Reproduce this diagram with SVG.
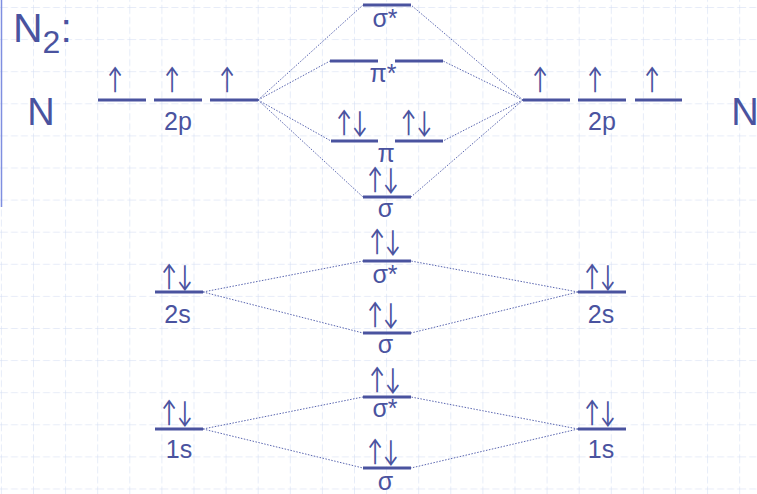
<svg xmlns="http://www.w3.org/2000/svg" width="757" height="494" viewBox="0 0 757 494">
<defs>
<pattern id="grid" x="33" y="7" width="32.1" height="32.1" patternUnits="userSpaceOnUse">
<line x1="0" y1="0" x2="32.1" y2="0" stroke="#cfdaf2" stroke-width="1" stroke-dasharray="7 3"/>
<line x1="0" y1="0" x2="0" y2="32.1" stroke="#cfdaf2" stroke-width="1" stroke-dasharray="7 3"/>
</pattern>
</defs>
<style>
.lv{stroke:#4a539f;stroke-width:3}
.t{font-family:"Liberation Sans",Arial,sans-serif;fill:#4a539f;text-anchor:middle}
.lab{font-size:25px}
.ar{font-family:Lato,"DejaVu Sans",sans-serif;font-size:29px;fill:#4a539f;text-anchor:middle}
.big{font-size:38px}
.cn{stroke:#5a66b0;stroke-width:1;stroke-dasharray:1.5 1.5;fill:none}
</style>
<rect width="757" height="494" fill="#ffffff"/>
<rect width="757" height="494" fill="url(#grid)"/>
<line x1="1.5" y1="0" x2="1.5" y2="207" stroke="#7f8fe0" stroke-width="1.5"/>

<g id="title"><text x="13" y="42" class="t" style="text-anchor:start;font-size:41px">N<tspan font-size="32" dy="11">2</tspan><tspan dy="-11">:</tspan></text></g>

<g id="connectors">
<line class="cn" x1="258" y1="100" x2="363" y2="5"/>
<line class="cn" x1="258" y1="100" x2="330" y2="61"/>
<line class="cn" x1="258" y1="100" x2="331" y2="141"/>
<line class="cn" x1="258" y1="100" x2="363" y2="197"/>
<line class="cn" x1="523" y1="100" x2="411" y2="5"/>
<line class="cn" x1="523" y1="100" x2="443" y2="61"/>
<line class="cn" x1="523" y1="100" x2="443" y2="141"/>
<line class="cn" x1="523" y1="100" x2="411" y2="197"/>
<line class="cn" x1="203" y1="292" x2="363" y2="261"/>
<line class="cn" x1="203" y1="292" x2="363" y2="333"/>
<line class="cn" x1="578" y1="292" x2="411" y2="261"/>
<line class="cn" x1="578" y1="292" x2="411" y2="333"/>
<line class="cn" x1="203" y1="429" x2="363" y2="397"/>
<line class="cn" x1="203" y1="429" x2="363" y2="468"/>
<line class="cn" x1="578" y1="429" x2="411" y2="397"/>
<line class="cn" x1="578" y1="429" x2="411" y2="468"/>
</g>

<g id="N-left"><text x="41" y="125" class="t big">N</text></g>
<g id="N-right"><text x="745" y="125" class="t big">N</text></g>

<g id="left-2p">
<line class="lv" x1="98" y1="100" x2="146" y2="100"/>
<line class="lv" x1="154" y1="100" x2="202" y2="100"/>
<line class="lv" x1="210" y1="100" x2="258" y2="100"/>
<text transform="translate(115 89) scale(0.72 1)" class="ar">↑</text>
<text transform="translate(172 89) scale(0.72 1)" class="ar">↑</text>
<text transform="translate(227 89) scale(0.72 1)" class="ar">↑</text>
<text x="178" y="130" class="t lab">2p</text>
</g>

<g id="right-2p">
<line class="lv" x1="523" y1="100" x2="570" y2="100"/>
<line class="lv" x1="578" y1="100" x2="626" y2="100"/>
<line class="lv" x1="635" y1="100" x2="682" y2="100"/>
<text transform="translate(540 89) scale(0.72 1)" class="ar">↑</text>
<text transform="translate(595 89) scale(0.72 1)" class="ar">↑</text>
<text transform="translate(652 89) scale(0.72 1)" class="ar">↑</text>
<text x="602" y="130" class="t lab">2p</text>
</g>

<g id="sigma-star-2p">
<line class="lv" x1="363" y1="5" x2="411" y2="5"/>
<text x="385" y="27" class="t lab">σ*</text>
</g>

<g id="pi-star">
<line class="lv" x1="330" y1="61" x2="378" y2="61"/>
<line class="lv" x1="395" y1="61" x2="443" y2="61"/>
<text x="383" y="82" class="t lab">π*</text>
</g>

<g id="pi">
<line class="lv" x1="331" y1="141" x2="378" y2="141"/>
<line class="lv" x1="395" y1="141" x2="443" y2="141"/>
<text transform="translate(352 132) scale(0.72 1)" class="ar">↑↓</text>
<text transform="translate(416.5 132) scale(0.72 1)" class="ar">↑↓</text>
<text x="386" y="162" class="t lab">π</text>
</g>

<g id="sigma-2p">
<line class="lv" x1="363" y1="197" x2="411" y2="197"/>
<text transform="translate(383 189) scale(0.72 1)" class="ar">↑↓</text>
<text x="385.5" y="217" class="t lab">σ</text>
</g>

<g id="sigma-star-2s">
<line class="lv" x1="363" y1="261" x2="411" y2="261"/>
<text transform="translate(385 251) scale(0.72 1)" class="ar">↑↓</text>
<text x="385" y="283" class="t lab">σ*</text>
</g>

<g id="sigma-2s">
<line class="lv" x1="363" y1="333" x2="411" y2="333"/>
<text transform="translate(383 324) scale(0.72 1)" class="ar">↑↓</text>
<text x="385.5" y="353" class="t lab">σ</text>
</g>

<g id="left-2s">
<line class="lv" x1="155" y1="292" x2="203" y2="292"/>
<text transform="translate(177 286) scale(0.72 1)" class="ar">↑↓</text>
<text x="177.5" y="323" class="t lab">2s</text>
</g>

<g id="right-2s">
<line class="lv" x1="578" y1="292" x2="626" y2="292"/>
<text transform="translate(600 286) scale(0.72 1)" class="ar">↑↓</text>
<text x="601" y="323" class="t lab">2s</text>
</g>

<g id="sigma-star-1s">
<line class="lv" x1="363" y1="397" x2="411" y2="397"/>
<text transform="translate(385 389) scale(0.72 1)" class="ar">↑↓</text>
<text x="385" y="417" class="t lab">σ*</text>
</g>

<g id="sigma-1s">
<line class="lv" x1="363" y1="468" x2="411" y2="468"/>
<text transform="translate(383 461) scale(0.72 1)" class="ar">↑↓</text>
<text x="385.5" y="490" class="t lab">σ</text>
</g>

<g id="left-1s">
<line class="lv" x1="155" y1="429" x2="203" y2="429"/>
<text transform="translate(177 422) scale(0.72 1)" class="ar">↑↓</text>
<text x="179" y="458" class="t lab">1s</text>
</g>

<g id="right-1s">
<line class="lv" x1="578" y1="429" x2="626" y2="429"/>
<text transform="translate(600 422) scale(0.72 1)" class="ar">↑↓</text>
<text x="601" y="458" class="t lab">1s</text>
</g>
</svg>
